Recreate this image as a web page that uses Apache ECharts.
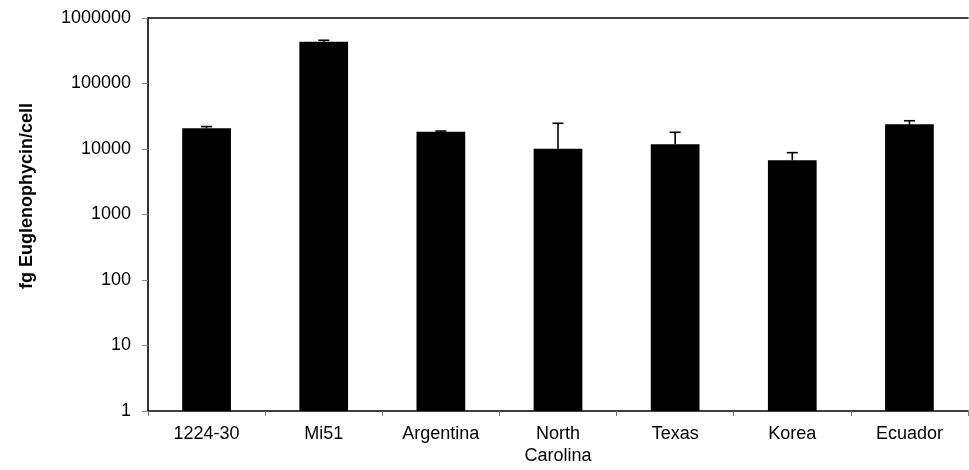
<!DOCTYPE html>
<html><head><meta charset="utf-8">
<script src="https://cdn.jsdelivr.net/npm/echarts@6/dist/echarts.min.js"></script>
<style>html,body{margin:0;padding:0;background:#fff}#c{width:969px;height:470px}</style>
</head><body><div id="c"></div>
<script>
var categories = ['1224-30', 'Mi51', 'Argentina', 'North\nCarolina', 'Texas', 'Korea', 'Ecuador'];
var means = [20700, 434000, 18400, 10100, 11800, 6720, 23800];
var errUpper = [1300, 23000, 400, 14600, 6200, 2070, 3200];
var yTicks = [1, 10, 100, 1000, 10000, 100000, 1000000];

var font = 'Liberation Sans, Arial, sans-serif';
var chart = echarts.init(document.getElementById('c'), null, {renderer: 'canvas'});
var errData = means.map(function (m, i) { return [i, m, m + errUpper[i]]; });

chart.setOption({
  animation: false,
  backgroundColor: '#fff',
  grid: {left: 148, right: 1, top: 18, bottom: 59, containLabel: false},
  xAxis: [{
    type: 'category', data: categories, position: 'bottom',
    axisLine: {lineStyle: {color: '#000', width: 1.6}},
    axisTick: {show: true, length: 5, lineStyle: {color: '#777', width: 1}},
    axisLabel: {color: '#000', fontFamily: font, fontSize: 18, margin: 12, lineHeight: 22}
  }, {
    type: 'category', data: categories, position: 'top',
    axisLine: {lineStyle: {color: '#000', width: 1.6}},
    axisTick: {show: false}, axisLabel: {show: false}
  }],
  yAxis: {
    type: 'log', logBase: 10, min: yTicks[0], max: yTicks[yTicks.length - 1],
    splitLine: {show: false},
    axisLine: {show: true, lineStyle: {color: '#000', width: 1.6}},
    axisTick: {show: true, length: 6, lineStyle: {color: '#888', width: 1}},
    axisLabel: {color: '#000', fontFamily: font, fontSize: 18, margin: 17,
      formatter: function (v) { return String(Math.round(v)); }}
  },
  graphic: [{
    type: 'text', left: 18, top: 103, rotation: Math.PI / 2,
    style: {text: 'fg Euglenophycin/cell', fontFamily: font, fontSize: 18, fontWeight: 'bold', fill: '#000'}
  }],
  series: [{
    type: 'bar', data: means, barWidth: '41.6%',
    itemStyle: {color: '#000'}
  }, {
    type: 'custom', data: errData, z: 5,
    renderItem: function (params, api) {
      var x = api.value(0);
      var top = api.coord([x, api.value(2)]);
      var base = api.coord([x, api.value(1)]);
      var hw = 5.5;
      return {type: 'group', children: [
        {type: 'line', shape: {x1: top[0], y1: base[1], x2: top[0], y2: top[1]}, style: {stroke: '#000', lineWidth: 1.6}},
        {type: 'line', shape: {x1: top[0] - hw, y1: top[1], x2: top[0] + hw, y2: top[1]}, style: {stroke: '#000', lineWidth: 1.6}}
      ]};
    }
  }]
});
</script></body></html>
